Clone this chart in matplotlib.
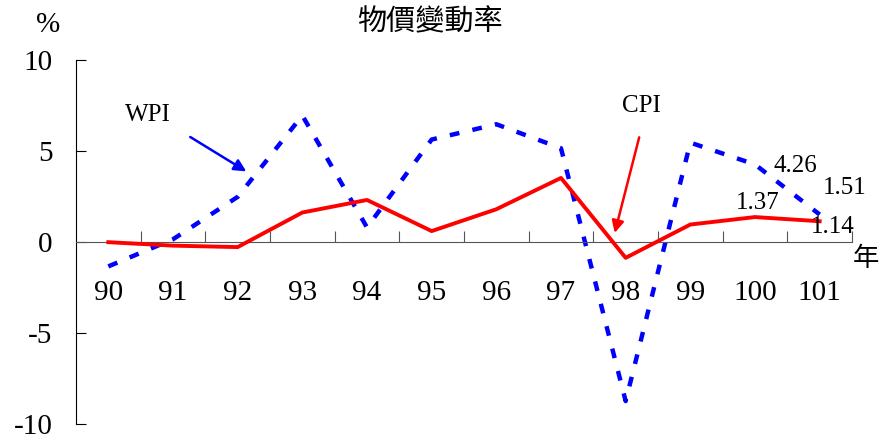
import numpy as np
import matplotlib
matplotlib.use('Agg')
import matplotlib.pyplot as plt

years = ['90', '91', '92', '93', '94', '95', '96', '97', '98', '99', '100', '101']
cpi = [-0.01, -0.20, -0.28, 1.62, 2.31, 0.60, 1.80, 3.52, -0.87, 0.96, 1.37, 1.14]
wpi = [-1.34, 0.15, 2.48, 6.95, 0.80, 5.63, 6.47, 5.15, -8.74, 5.46, 4.26, 1.51]
yticks = [-10, -5, 0, 5, 10]

plt.rcParams['font.family'] = ['Liberation Serif', 'Noto Sans CJK TC']
cjk = ['Noto Sans CJK TC', 'DejaVu Sans']

fig = plt.figure(figsize=(8.82, 4.38), dpi=100)
ax = fig.add_axes([76/882, 1-424/438, 776/882, 364/438])

xs = np.arange(len(years))
ax.plot(xs, wpi, color='#0000FF', lw=3.2, dashes=(2.2, 3.0), dash_capstyle='butt', zorder=2)
ax.plot(xs, cpi, color='#FF0000', lw=2.8, zorder=3)

ax.set_xlim(-0.5, len(years) - 0.5)
ax.set_ylim(-10, 10)

for s in ['top', 'right']:
    ax.spines[s].set_visible(False)
ax.spines['bottom'].set_position(('data', 0))
ax.spines['bottom'].set_color('#555555')
ax.spines['left'].set_color('black')
ax.spines['left'].set_linewidth(0.8)

ax.set_yticks(yticks)
ax.set_yticklabels([str(v) for v in yticks])
ax.tick_params(axis='y', direction='in', length=7, pad=17, labelsize=21)

ax.set_xticks(np.arange(0.5, len(years) - 0.4, 1.0))
ax.set_xticklabels([])
ax.set_xticks(xs, minor=True)
ax.set_xticklabels(years, minor=True)
ax.tick_params(axis='x', which='major', direction='in', length=8, color='#555555')
ax.tick_params(axis='x', which='minor', length=0, pad=27, labelsize=21)

# labels of last values
ax.text(10.04, 2.14, '1.37', ha='center', va='center', fontsize=18)
ax.text(11.2, 0.82, '1.14', ha='center', va='center', fontsize=18)
ax.text(10.28, 4.18, '4.26', ha='left', va='center', fontsize=18)
ax.text(11.05, 2.97, '1.51', ha='left', va='center', fontsize=18)

# series names with arrows
ax.text(0.61, 6.98, 'WPI', ha='center', va='center', fontsize=18)
ax.annotate('', xy=(2.17, 3.8), xytext=(1.23, 5.85),
            arrowprops=dict(arrowstyle='-|>', color='#0000FF', lw=1.8, mutation_scale=18))
ax.text(8.24, 7.47, 'CPI', ha='center', va='center', fontsize=18)
ax.annotate('', xy=(7.82, 0.35), xytext=(8.22, 5.9),
            arrowprops=dict(arrowstyle='-|>', color='#FF0000', lw=1.8, mutation_scale=18))

fig.text(430/882, 1-22/438, '物價變動率', ha='center', va='center', fontsize=21, family=cjk)
fig.text(48/882, 1-25/438, '%', ha='center', va='center', fontsize=21)
fig.text(866/882, 1-259/438, '年', ha='center', va='center', fontsize=19, family=cjk)

fig.savefig('out.png', dpi=100)
